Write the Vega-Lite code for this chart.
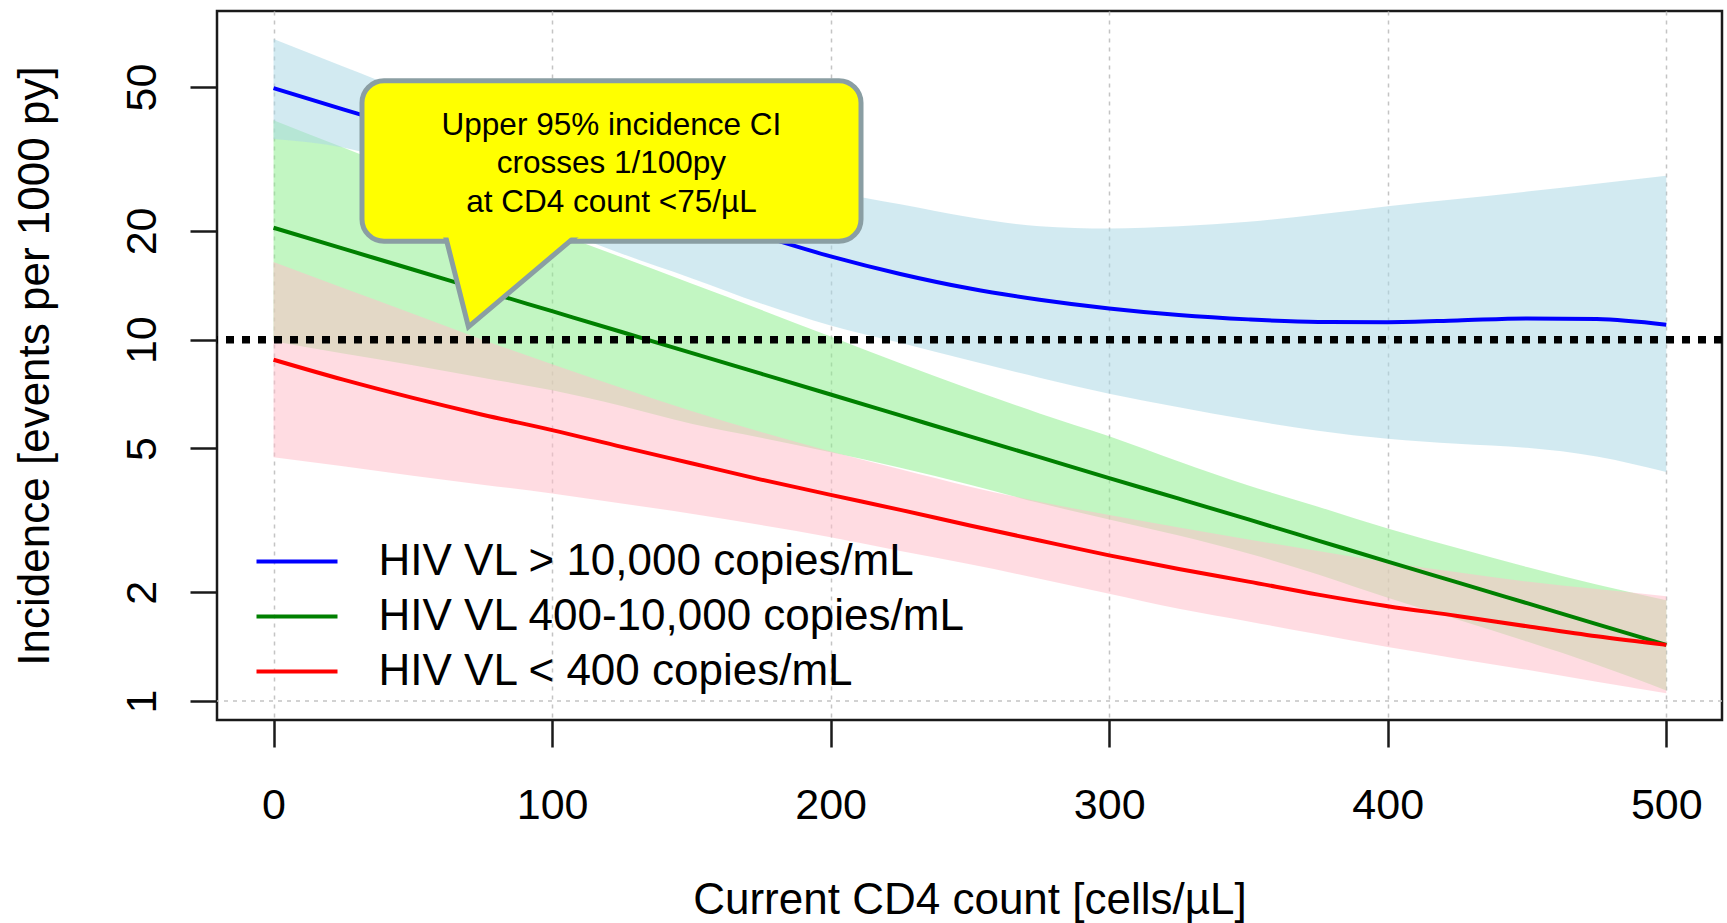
{
  "$schema": "https://vega.github.io/schema/vega-lite/v6.json",
  "width": 1505,
  "height": 709,
  "autosize": {"type": "none"},
  "padding": {"left": 217, "top": 11, "right": 5, "bottom": 203},
  "background": "white",
  "config": {
    "view": {"stroke": "#1a1a1a", "strokeWidth": 2.5},
    "font": "Liberation Sans",
    "axis": {"labelFont": "Liberation Sans", "titleFont": "Liberation Sans", "labelColor": "black", "titleColor": "black", "titleFontWeight": "normal"}
  },
  "datasets": {
    "curves": [
      {"x": 0, "vl": "HIV VL > 10,000 copies/mL", "est": 49.7, "lo": 35.9, "hi": 67.9},
      {"x": 25, "vl": "HIV VL > 10,000 copies/mL", "est": 43.4, "lo": 34.0, "hi": 57.0},
      {"x": 50, "vl": "HIV VL > 10,000 copies/mL", "est": 38.0, "lo": 30.0, "hi": 48.0},
      {"x": 75, "vl": "HIV VL > 10,000 copies/mL", "est": 33.2, "lo": 25.0, "hi": 41.5},
      {"x": 100, "vl": "HIV VL > 10,000 copies/mL", "est": 29.0, "lo": 20.5, "hi": 36.5},
      {"x": 125, "vl": "HIV VL > 10,000 copies/mL", "est": 25.3, "lo": 17.3, "hi": 32.5},
      {"x": 150, "vl": "HIV VL > 10,000 copies/mL", "est": 22.2, "lo": 14.8, "hi": 29.5},
      {"x": 175, "vl": "HIV VL > 10,000 copies/mL", "est": 19.4, "lo": 12.6, "hi": 27.2},
      {"x": 200, "vl": "HIV VL > 10,000 copies/mL", "est": 17.0, "lo": 10.95, "hi": 25.6},
      {"x": 225, "vl": "HIV VL > 10,000 copies/mL", "est": 15.2, "lo": 9.8, "hi": 23.7},
      {"x": 250, "vl": "HIV VL > 10,000 copies/mL", "est": 13.85, "lo": 8.75, "hi": 21.8},
      {"x": 275, "vl": "HIV VL > 10,000 copies/mL", "est": 12.9, "lo": 7.85, "hi": 20.6},
      {"x": 300, "vl": "HIV VL > 10,000 copies/mL", "est": 12.2, "lo": 7.09, "hi": 20.3},
      {"x": 325, "vl": "HIV VL > 10,000 copies/mL", "est": 11.7, "lo": 6.5, "hi": 20.6},
      {"x": 350, "vl": "HIV VL > 10,000 copies/mL", "est": 11.38, "lo": 6.0, "hi": 21.2},
      {"x": 375, "vl": "HIV VL > 10,000 copies/mL", "est": 11.2, "lo": 5.6, "hi": 22.2},
      {"x": 400, "vl": "HIV VL > 10,000 copies/mL", "est": 11.18, "lo": 5.32, "hi": 23.4},
      {"x": 425, "vl": "HIV VL > 10,000 copies/mL", "est": 11.3, "lo": 5.15, "hi": 24.5},
      {"x": 450, "vl": "HIV VL > 10,000 copies/mL", "est": 11.45, "lo": 5.02, "hi": 25.7},
      {"x": 475, "vl": "HIV VL > 10,000 copies/mL", "est": 11.4, "lo": 4.75, "hi": 27.0},
      {"x": 500, "vl": "HIV VL > 10,000 copies/mL", "est": 11.0, "lo": 4.3, "hi": 28.4},
      {"x": 0, "vl": "HIV VL 400-10,000 copies/mL", "est": 20.4, "lo": 9.9, "hi": 40.5},
      {"x": 25, "vl": "HIV VL 400-10,000 copies/mL", "est": 17.86, "lo": 9.15, "hi": 34.0},
      {"x": 50, "vl": "HIV VL 400-10,000 copies/mL", "est": 15.64, "lo": 8.5, "hi": 28.5},
      {"x": 75, "vl": "HIV VL 400-10,000 copies/mL", "est": 13.69, "lo": 7.85, "hi": 23.9},
      {"x": 100, "vl": "HIV VL 400-10,000 copies/mL", "est": 11.99, "lo": 7.24, "hi": 20.0},
      {"x": 125, "vl": "HIV VL 400-10,000 copies/mL", "est": 10.5, "lo": 6.55, "hi": 16.9},
      {"x": 150, "vl": "HIV VL 400-10,000 copies/mL", "est": 9.19, "lo": 5.85, "hi": 14.3},
      {"x": 175, "vl": "HIV VL 400-10,000 copies/mL", "est": 8.05, "lo": 5.35, "hi": 12.1},
      {"x": 200, "vl": "HIV VL 400-10,000 copies/mL", "est": 7.05, "lo": 4.88, "hi": 10.2},
      {"x": 225, "vl": "HIV VL 400-10,000 copies/mL", "est": 6.17, "lo": 4.42, "hi": 8.6},
      {"x": 250, "vl": "HIV VL 400-10,000 copies/mL", "est": 5.4, "lo": 3.97, "hi": 7.3},
      {"x": 275, "vl": "HIV VL 400-10,000 copies/mL", "est": 4.73, "lo": 3.53, "hi": 6.25},
      {"x": 300, "vl": "HIV VL 400-10,000 copies/mL", "est": 4.14, "lo": 3.18, "hi": 5.4},
      {"x": 325, "vl": "HIV VL 400-10,000 copies/mL", "est": 3.63, "lo": 2.87, "hi": 4.6},
      {"x": 350, "vl": "HIV VL 400-10,000 copies/mL", "est": 3.18, "lo": 2.56, "hi": 3.95},
      {"x": 375, "vl": "HIV VL 400-10,000 copies/mL", "est": 2.78, "lo": 2.24, "hi": 3.45},
      {"x": 400, "vl": "HIV VL 400-10,000 copies/mL", "est": 2.43, "lo": 1.93, "hi": 3.0},
      {"x": 425, "vl": "HIV VL 400-10,000 copies/mL", "est": 2.13, "lo": 1.68, "hi": 2.65},
      {"x": 450, "vl": "HIV VL 400-10,000 copies/mL", "est": 1.865, "lo": 1.46, "hi": 2.35},
      {"x": 475, "vl": "HIV VL 400-10,000 copies/mL", "est": 1.633, "lo": 1.26, "hi": 2.1},
      {"x": 500, "vl": "HIV VL 400-10,000 copies/mL", "est": 1.43, "lo": 1.07, "hi": 1.9},
      {"x": 0, "vl": "HIV VL < 400 copies/mL", "est": 8.8, "lo": 4.73, "hi": 16.4},
      {"x": 25, "vl": "HIV VL < 400 copies/mL", "est": 7.75, "lo": 4.46, "hi": 13.9},
      {"x": 50, "vl": "HIV VL < 400 copies/mL", "est": 6.9, "lo": 4.2, "hi": 11.8},
      {"x": 75, "vl": "HIV VL < 400 copies/mL", "est": 6.2, "lo": 3.97, "hi": 10.0},
      {"x": 100, "vl": "HIV VL < 400 copies/mL", "est": 5.62, "lo": 3.75, "hi": 8.55},
      {"x": 125, "vl": "HIV VL < 400 copies/mL", "est": 5.05, "lo": 3.52, "hi": 7.35},
      {"x": 150, "vl": "HIV VL < 400 copies/mL", "est": 4.55, "lo": 3.3, "hi": 6.35},
      {"x": 175, "vl": "HIV VL < 400 copies/mL", "est": 4.1, "lo": 3.07, "hi": 5.55},
      {"x": 200, "vl": "HIV VL < 400 copies/mL", "est": 3.72, "lo": 2.84, "hi": 4.9},
      {"x": 225, "vl": "HIV VL < 400 copies/mL", "est": 3.38, "lo": 2.6, "hi": 4.38},
      {"x": 250, "vl": "HIV VL < 400 copies/mL", "est": 3.06, "lo": 2.39, "hi": 3.92},
      {"x": 275, "vl": "HIV VL < 400 copies/mL", "est": 2.78, "lo": 2.18, "hi": 3.56},
      {"x": 300, "vl": "HIV VL < 400 copies/mL", "est": 2.53, "lo": 1.98, "hi": 3.27},
      {"x": 325, "vl": "HIV VL < 400 copies/mL", "est": 2.32, "lo": 1.8, "hi": 3.02},
      {"x": 350, "vl": "HIV VL < 400 copies/mL", "est": 2.14, "lo": 1.66, "hi": 2.8},
      {"x": 375, "vl": "HIV VL < 400 copies/mL", "est": 1.97, "lo": 1.53, "hi": 2.6},
      {"x": 400, "vl": "HIV VL < 400 copies/mL", "est": 1.83, "lo": 1.41, "hi": 2.42},
      {"x": 425, "vl": "HIV VL < 400 copies/mL", "est": 1.72, "lo": 1.31, "hi": 2.27},
      {"x": 450, "vl": "HIV VL < 400 copies/mL", "est": 1.61, "lo": 1.22, "hi": 2.14},
      {"x": 475, "vl": "HIV VL < 400 copies/mL", "est": 1.51, "lo": 1.13, "hi": 2.04},
      {"x": 500, "vl": "HIV VL < 400 copies/mL", "est": 1.43, "lo": 1.05, "hi": 1.95}
    ]
  },
  "layer": [
    {
      "data": {"name": "curves"},
      "transform": [{"filter": "datum.vl === 'HIV VL 400-10,000 copies/mL'"}],
      "mark": {"type": "area", "color": "#90ee90", "opacity": 0.55, "interpolate": "monotone"},
      "encoding": {
        "x": {"field": "x", "type": "quantitative", "scale": {"type": "linear", "domain": [-20.3, 520], "nice": false, "zero": false}, "title": "Current CD4 count [cells/µL]",
          "axis": {"values": [0, 100, 200, 300, 400, 500], "grid": true, "gridColor": "#c4c4c4", "gridDash": [4, 5], "gridWidth": 1.5, "domain": false, "tickSize": 27, "tickWidth": 2.5, "tickColor": "#1a1a1a", "labelFontSize": 43, "labelPadding": 37, "labelFlush": false, "labelOverlap": false, "titleFontSize": 44, "titleY": 193, "titleBaseline": "alphabetic"}},
        "y": {"field": "hi", "type": "quantitative", "scale": {"type": "log", "domain": [0.886, 81.2], "nice": false}, "title": "Incidence [events per 1000 py]",
          "axis": {"values": [1, 2, 5, 10, 20, 50], "grid": false, "domain": false, "tickSize": 27, "tickWidth": 2.5, "tickColor": "#1a1a1a", "labelFontSize": 43, "labelAngle": 270, "labelAlign": "center", "labelBaseline": "bottom", "labelPadding": 26, "labelOverlap": false, "titleFontSize": 44, "titleAngle": 270, "titleX": -168.5, "titleY": 354.5, "titleAlign": "center", "titleBaseline": "alphabetic"}},
        "y2": {"field": "lo"}
      }
    },
    {
      "data": {"name": "curves"},
      "transform": [{"filter": "datum.vl === 'HIV VL < 400 copies/mL'"}],
      "mark": {"type": "area", "color": "#ffc0cb", "opacity": 0.55, "interpolate": "monotone"},
      "encoding": {
        "x": {"field": "x", "type": "quantitative", "scale": {"type": "linear", "domain": [-20.3, 520], "nice": false, "zero": false}, "title": "Current CD4 count [cells/µL]"},
        "y": {"field": "hi", "type": "quantitative", "scale": {"type": "log", "domain": [0.886, 81.2], "nice": false}, "title": "Incidence [events per 1000 py]"},
        "y2": {"field": "lo"}
      }
    },
    {
      "data": {"name": "curves"},
      "transform": [{"filter": "datum.vl === 'HIV VL > 10,000 copies/mL'"}],
      "mark": {"type": "area", "color": "#add8e6", "opacity": 0.55, "interpolate": "monotone"},
      "encoding": {
        "x": {"field": "x", "type": "quantitative", "scale": {"type": "linear", "domain": [-20.3, 520], "nice": false, "zero": false}, "title": "Current CD4 count [cells/µL]"},
        "y": {"field": "hi", "type": "quantitative", "scale": {"type": "log", "domain": [0.886, 81.2], "nice": false}, "title": "Incidence [events per 1000 py]"},
        "y2": {"field": "lo"}
      }
    },
    {
      "data": {"values": [{"g": 1}]},
      "mark": {"type": "rule", "color": "#c4c4c4", "strokeDash": [4, 5], "strokeWidth": 1.5},
      "encoding": {
        "y": {"datum": 1, "type": "quantitative", "scale": {"type": "log", "domain": [0.886, 81.2], "nice": false}, "title": "Incidence [events per 1000 py]"}
      }
    },
    {
      "data": {"name": "curves"},
      "mark": {"type": "line", "strokeWidth": 4, "interpolate": "monotone"},
      "encoding": {
        "x": {"field": "x", "type": "quantitative", "scale": {"type": "linear", "domain": [-20.3, 520], "nice": false, "zero": false}, "title": "Current CD4 count [cells/µL]"},
        "y": {"field": "est", "type": "quantitative", "scale": {"type": "log", "domain": [0.886, 81.2], "nice": false}, "title": "Incidence [events per 1000 py]"},
        "color": {"field": "vl", "type": "nominal", "sort": null,
          "scale": {"domain": ["HIV VL > 10,000 copies/mL", "HIV VL 400-10,000 copies/mL", "HIV VL < 400 copies/mL"], "range": ["#0000ff", "#008000", "#ff0000"]},
          "legend": {"orient": "none", "legendX": 37.5, "legendY": 529, "title": null, "symbolType": "stroke", "symbolSize": 6561, "symbolStrokeWidth": 4, "clipHeight": 43, "rowPadding": 10, "padding": 0, "labelFontSize": 44, "labelFont": "Liberation Sans", "labelOffset": 39, "labelLimit": 900, "labelColor": "black"}}
      }
    },
    {
      "data": {"values": [{"g": 1}]},
      "mark": {"type": "rule", "color": "black", "strokeDash": [8, 8], "strokeWidth": 7.5},
      "encoding": {
        "y": {"datum": 10, "type": "quantitative", "scale": {"type": "log", "domain": [0.886, 81.2], "nice": false}, "title": "Incidence [events per 1000 py]"}
      }
    },
    {
      "data": {"values": [{"x": 31.75, "x2": 210.9, "y": 52.07, "y2": 18.73}]},
      "mark": {"type": "rect", "fill": "#ffff00", "stroke": "#8a9ea3", "strokeWidth": 5, "cornerRadius": 22},
      "encoding": {
        "x": {"field": "x", "type": "quantitative", "scale": {"type": "linear", "domain": [-20.3, 520], "nice": false, "zero": false}, "title": "Current CD4 count [cells/µL]"},
        "x2": {"field": "x2"},
        "y": {"field": "y", "type": "quantitative", "scale": {"type": "log", "domain": [0.886, 81.2], "nice": false}, "title": "Incidence [events per 1000 py]"},
        "y2": {"field": "y2"}
      }
    },
    {
      "data": {"values": [{"x": 61.53, "lo": 19.62, "hi": 19.62}, {"x": 69.97, "lo": 10.85, "hi": 19.62}, {"x": 109.5, "lo": 19.62, "hi": 19.62}]},
      "mark": {"type": "area", "fill": "#ffff00", "stroke": "#8a9ea3", "strokeWidth": 5, "opacity": 1},
      "encoding": {
        "x": {"field": "x", "type": "quantitative", "scale": {"type": "linear", "domain": [-20.3, 520], "nice": false, "zero": false}, "title": "Current CD4 count [cells/µL]"},
        "y": {"field": "hi", "type": "quantitative", "scale": {"type": "log", "domain": [0.886, 81.2], "nice": false}, "title": "Incidence [events per 1000 py]"},
        "y2": {"field": "lo"}
      }
    },
    {
      "data": {"values": [{"x": 55, "x2": 120, "y": 25, "y2": 19.18}]},
      "mark": {"type": "rect", "fill": "#ffff00"},
      "encoding": {
        "x": {"field": "x", "type": "quantitative", "scale": {"type": "linear", "domain": [-20.3, 520], "nice": false, "zero": false}, "title": "Current CD4 count [cells/µL]"},
        "x2": {"field": "x2"},
        "y": {"field": "y", "type": "quantitative", "scale": {"type": "log", "domain": [0.886, 81.2], "nice": false}, "title": "Incidence [events per 1000 py]"},
        "y2": {"field": "y2"}
      }
    },
    {
      "data": {"values": [{"x": 121.3, "y": 36.9, "label": "Upper 95% incidence CI\ncrosses 1/100py\nat CD4 count <75/µL"}]},
      "mark": {"type": "text", "font": "Liberation Sans", "fontSize": 31.5, "align": "center", "baseline": "alphabetic", "lineBreak": "\n", "lineHeight": 38.5, "color": "black"},
      "encoding": {
        "x": {"field": "x", "type": "quantitative", "scale": {"type": "linear", "domain": [-20.3, 520], "nice": false, "zero": false}, "title": "Current CD4 count [cells/µL]"},
        "y": {"field": "y", "type": "quantitative", "scale": {"type": "log", "domain": [0.886, 81.2], "nice": false}, "title": "Incidence [events per 1000 py]"},
        "text": {"field": "label"}
      }
    }
  ]
}
